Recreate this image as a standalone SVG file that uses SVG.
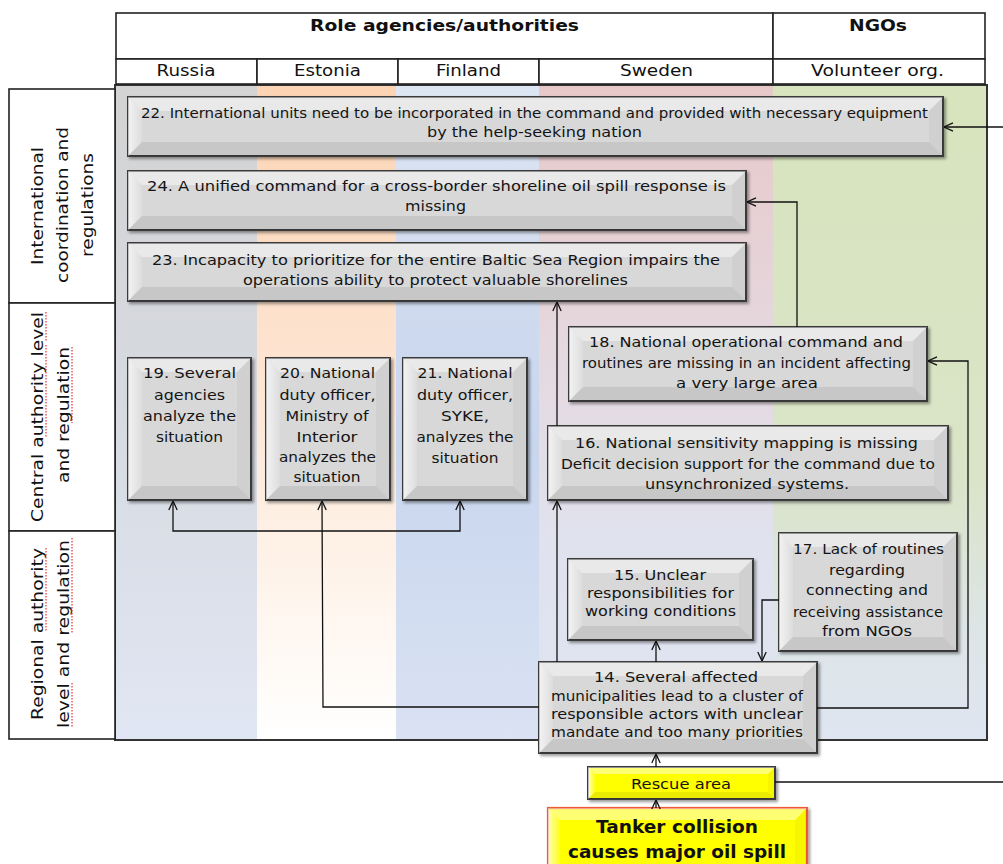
<svg xmlns="http://www.w3.org/2000/svg" width="1003" height="864" viewBox="0 0 1003 864">
  <defs>
    <style>
      .t { font-family: "DejaVu Sans", Verdana, sans-serif; font-size: 14.5px; fill: #141414; text-anchor: middle; }
      .hb { font-family: "DejaVu Sans", Verdana, sans-serif; font-size: 15px; font-weight: bold; fill: #111; text-anchor: middle; }
      .hn { font-family: "DejaVu Sans", Verdana, sans-serif; font-size: 15px; fill: #111; text-anchor: middle; }
      .rl { font-family: "DejaVu Sans", Verdana, sans-serif; font-size: 15px; fill: #111; text-anchor: middle; }
      .big { font-family: "DejaVu Sans", Verdana, sans-serif; font-size: 18px; font-weight: bold; fill: #111; text-anchor: middle; }
      .cell { fill: #fff; stroke: #222; stroke-width: 1.6; }
      .box { fill: #d8d8d8; stroke: #3a3a3a; stroke-width: 2; }
      .ybox { fill: #ffff00; stroke: #3a3a3a; stroke-width: 2; }
      .tbox { fill: #ffff00; stroke: #ee5a36; stroke-width: 2.2; }
      .bt { fill: #ffffff; fill-opacity: 0.45; }
      .bl { fill: url(#gLeft); }
      .br { fill: #000; fill-opacity: 0.035; }
      .bb { fill: #000; fill-opacity: 0.08; }
      .sh { filter: url(#shadow); }
      .wire { fill: none; stroke: #111; stroke-width: 1.3; }
      .spell { fill: none; stroke: #e83030; stroke-width: 1.2; stroke-dasharray: 1.5 1.5; }
    </style>
    <linearGradient id="gLeft" x1="0" y1="0" x2="1" y2="0">
      <stop offset="0" stop-color="#fff" stop-opacity="0.7"/>
      <stop offset="1" stop-color="#fff" stop-opacity="0.12"/>
    </linearGradient>
    <linearGradient id="laneRu" x1="0" y1="0" x2="0" y2="1">
      <stop offset="0" stop-color="#d3d3d3"/>
      <stop offset="0.45" stop-color="#d6d9df"/>
      <stop offset="1" stop-color="#e0e6f3"/>
    </linearGradient>
    <linearGradient id="laneEe" x1="0" y1="0" x2="0" y2="1">
      <stop offset="0" stop-color="#fcd4b4"/>
      <stop offset="0.4" stop-color="#fde3cf"/>
      <stop offset="0.7" stop-color="#fef1e6"/>
      <stop offset="1" stop-color="#ffffff"/>
    </linearGradient>
    <linearGradient id="laneFi" x1="0" y1="0" x2="0" y2="1">
      <stop offset="0" stop-color="#dde6f3"/>
      <stop offset="0.35" stop-color="#cfdaef"/>
      <stop offset="0.55" stop-color="#c8d6ee"/>
      <stop offset="1" stop-color="#dae2f3"/>
    </linearGradient>
    <linearGradient id="laneSe" x1="0" y1="0" x2="0" y2="1">
      <stop offset="0" stop-color="#e7c8c8"/>
      <stop offset="0.4" stop-color="#e5d8df"/>
      <stop offset="0.7" stop-color="#e0e2ee"/>
      <stop offset="1" stop-color="#dfe5f2"/>
    </linearGradient>
    <linearGradient id="laneNgo" x1="0" y1="0" x2="0" y2="1">
      <stop offset="0" stop-color="#d7e4bd"/>
      <stop offset="0.6" stop-color="#dae4c8"/>
      <stop offset="0.85" stop-color="#dde5e8"/>
      <stop offset="1" stop-color="#dfe5f1"/>
    </linearGradient>
    <filter id="shadow" x="-5%" y="-10%" width="115%" height="130%">
      <feDropShadow dx="2" dy="2" stdDeviation="1.5" flood-color="#000" flood-opacity="0.4"/>
    </filter>
    <marker id="ah" viewBox="0 0 10 10" refX="10" refY="5" markerWidth="10" markerHeight="10" markerUnits="userSpaceOnUse" orient="auto-start-reverse">
      <path d="M1,0.8 L10,5 L1,9.2" fill="none" stroke="#111" stroke-width="1.3"/>
    </marker>
  </defs>

  <rect width="1003" height="864" fill="#fff"/>

  <!-- swim lanes -->
  <g id="lanes">
    <rect x="116" y="86" width="141" height="653" fill="url(#laneRu)"/>
    <rect x="257" y="86" width="139" height="653" fill="url(#laneEe)"/>
    <rect x="396" y="86" width="143" height="653" fill="url(#laneFi)"/>
    <rect x="539" y="86" width="234" height="653" fill="url(#laneSe)"/>
    <rect x="773" y="86" width="213" height="653" fill="url(#laneNgo)"/>
    <rect x="115" y="85" width="872" height="655" fill="none" stroke="#333" stroke-width="2"/>
  </g>

  <!-- column header table -->
  <g id="header">
    <rect class="cell" x="116" y="13" width="657" height="46"/>
    <rect class="cell" x="773" y="13" width="212" height="46"/>
    <rect class="cell" x="116" y="59" width="141" height="25"/>
    <rect class="cell" x="257" y="59" width="141" height="25"/>
    <rect class="cell" x="398" y="59" width="141" height="25"/>
    <rect class="cell" x="539" y="59" width="234" height="25"/>
    <rect class="cell" x="773" y="59" width="212" height="25"/>
    <text class="hb" x="444.5" y="31" textLength="269" lengthAdjust="spacingAndGlyphs">Role agencies/authorities</text>
    <text class="hb" x="878" y="31" textLength="58" lengthAdjust="spacingAndGlyphs">NGOs</text>
    <text class="hn" x="186" y="76" textLength="59" lengthAdjust="spacingAndGlyphs">Russia</text>
    <text class="hn" x="327.5" y="76" textLength="67" lengthAdjust="spacingAndGlyphs">Estonia</text>
    <text class="hn" x="468.5" y="76" textLength="65" lengthAdjust="spacingAndGlyphs">Finland</text>
    <text class="hn" x="656.5" y="76" textLength="73" lengthAdjust="spacingAndGlyphs">Sweden</text>
    <text class="hn" x="877.5" y="76" textLength="133" lengthAdjust="spacingAndGlyphs">Volunteer org.</text>
  </g>

  <!-- row header column -->
  <g id="row-labels">
    <rect class="cell" x="9" y="89" width="106" height="214"/>
    <rect class="cell" x="9" y="303" width="106" height="228"/>
    <rect class="cell" x="9" y="531" width="106" height="208"/>
    <text class="rl" transform="translate(43,206) rotate(-90)" textLength="118" lengthAdjust="spacingAndGlyphs">International</text>
    <text class="rl" transform="translate(68,205) rotate(-90)" textLength="156" lengthAdjust="spacingAndGlyphs">coordination and</text>
    <text class="rl" transform="translate(93,205) rotate(-90)" textLength="104" lengthAdjust="spacingAndGlyphs">regulations</text>
    <text class="rl" transform="translate(43,417) rotate(-90)" textLength="210" lengthAdjust="spacingAndGlyphs">Central authority level</text>
    <text class="rl" transform="translate(69,415) rotate(-90)" textLength="136" lengthAdjust="spacingAndGlyphs">and regulation</text>
    <text class="rl" transform="translate(43,634) rotate(-90)" textLength="172" lengthAdjust="spacingAndGlyphs">Regional authority</text>
    <text class="rl" transform="translate(69,634) rotate(-90)" textLength="188" lengthAdjust="spacingAndGlyphs">level and regulation</text>
    <path class="spell" d="M46,312 V341 M46,345 V438 M72,347 V423 M46,548 V632 M72,538 V633 M72,683 V728"/>
  </g>

  <!-- problem boxes -->
  <g id="n22">
    <rect class="box sh" x="128" y="97" width="815" height="59"/>
    <polygon class="bt" points="128,97 943,97 929,111 142,111"/>
    <polygon class="bl" points="128,97 142,111 142,142 128,156"/>
    <polygon class="br" points="943,97 943,156 929,142 929,111"/>
    <polygon class="bb" points="128,156 142,142 929,142 943,156"/>
    <text class="t" x="534.5" y="118" textLength="787" lengthAdjust="spacingAndGlyphs">22. International units need to be incorporated in the command and provided with necessary equipment</text>
    <text class="t" x="534.5" y="137" textLength="215" lengthAdjust="spacingAndGlyphs">by the help-seeking nation</text>
  </g>
  <g id="n24">
    <rect class="box sh" x="128" y="171" width="618" height="59"/>
    <polygon class="bt" points="128,171 746,171 732,185 142,185"/>
    <polygon class="bl" points="128,171 142,185 142,216 128,230"/>
    <polygon class="br" points="746,171 746,230 732,216 732,185"/>
    <polygon class="bb" points="128,230 142,216 732,216 746,230"/>
    <text class="t" x="436.5" y="191" textLength="579" lengthAdjust="spacingAndGlyphs">24. A unified command for a cross-border shoreline oil spill response is</text>
    <text class="t" x="435.5" y="211" textLength="61" lengthAdjust="spacingAndGlyphs">missing</text>
  </g>
  <g id="n23">
    <rect class="box sh" x="128" y="243" width="618" height="58"/>
    <polygon class="bt" points="128,243 746,243 732,257 142,257"/>
    <polygon class="bl" points="128,243 142,257 142,287 128,301"/>
    <polygon class="br" points="746,243 746,301 732,287 732,257"/>
    <polygon class="bb" points="128,301 142,287 732,287 746,301"/>
    <text class="t" x="436" y="265" textLength="568" lengthAdjust="spacingAndGlyphs">23. Incapacity to prioritize for the entire Baltic Sea Region impairs the</text>
    <text class="t" x="435.5" y="285" textLength="385" lengthAdjust="spacingAndGlyphs">operations ability to protect valuable shorelines</text>
  </g>
  <g id="n19">
    <rect class="box sh" x="128" y="358" width="123" height="142"/>
    <polygon class="bt" points="128,358 251,358 237,372 142,372"/>
    <polygon class="bl" points="128,358 142,372 142,486 128,500"/>
    <polygon class="br" points="251,358 251,500 237,486 237,372"/>
    <polygon class="bb" points="128,500 142,486 237,486 251,500"/>
    <text class="t" x="189.5" y="378" textLength="93" lengthAdjust="spacingAndGlyphs">19. Several</text>
    <text class="t" x="189.5" y="400" textLength="71" lengthAdjust="spacingAndGlyphs">agencies</text>
    <text class="t" x="189.5" y="421" textLength="93" lengthAdjust="spacingAndGlyphs">analyze the</text>
    <text class="t" x="189.5" y="442" textLength="67" lengthAdjust="spacingAndGlyphs">situation</text>
  </g>
  <g id="n20">
    <rect class="box sh" x="266" y="358" width="124" height="142"/>
    <polygon class="bt" points="266,358 390,358 376,372 280,372"/>
    <polygon class="bl" points="266,358 280,372 280,486 266,500"/>
    <polygon class="br" points="390,358 390,500 376,486 376,372"/>
    <polygon class="bb" points="266,500 280,486 376,486 390,500"/>
    <text class="t" x="327.5" y="378" textLength="95" lengthAdjust="spacingAndGlyphs">20. National</text>
    <text class="t" x="327.5" y="400" textLength="96" lengthAdjust="spacingAndGlyphs">duty officer,</text>
    <text class="t" x="327" y="421" textLength="83" lengthAdjust="spacingAndGlyphs">Ministry of</text>
    <text class="t" x="327" y="442" textLength="61" lengthAdjust="spacingAndGlyphs">Interior</text>
    <text class="t" x="327.5" y="462" textLength="97" lengthAdjust="spacingAndGlyphs">analyzes the</text>
    <text class="t" x="327" y="482" textLength="67" lengthAdjust="spacingAndGlyphs">situation</text>
  </g>
  <g id="n21">
    <rect class="box sh" x="403" y="358" width="124" height="142"/>
    <polygon class="bt" points="403,358 527,358 513,372 417,372"/>
    <polygon class="bl" points="403,358 417,372 417,486 403,500"/>
    <polygon class="br" points="527,358 527,500 513,486 513,372"/>
    <polygon class="bb" points="403,500 417,486 513,486 527,500"/>
    <text class="t" x="465" y="378" textLength="95" lengthAdjust="spacingAndGlyphs">21. National</text>
    <text class="t" x="465" y="400" textLength="96" lengthAdjust="spacingAndGlyphs">duty officer,</text>
    <text class="t" x="465" y="421" textLength="48" lengthAdjust="spacingAndGlyphs">SYKE,</text>
    <text class="t" x="465" y="442" textLength="97" lengthAdjust="spacingAndGlyphs">analyzes the</text>
    <text class="t" x="465" y="463" textLength="67" lengthAdjust="spacingAndGlyphs">situation</text>
  </g>
  <g id="n18">
    <rect class="box sh" x="569" y="327" width="358" height="74"/>
    <polygon class="bt" points="569,327 927,327 913,341 583,341"/>
    <polygon class="bl" points="569,327 583,341 583,387 569,401"/>
    <polygon class="br" points="927,327 927,401 913,387 913,341"/>
    <polygon class="bb" points="569,401 583,387 913,387 927,401"/>
    <text class="t" x="746" y="347" textLength="314" lengthAdjust="spacingAndGlyphs">18. National operational command and</text>
    <text class="t" x="746.5" y="368" textLength="329" lengthAdjust="spacingAndGlyphs">routines are missing in an incident affecting</text>
    <text class="t" x="747" y="388" textLength="142" lengthAdjust="spacingAndGlyphs">a very large area</text>
  </g>
  <g id="n16">
    <rect class="box sh" x="548" y="426" width="400" height="74"/>
    <polygon class="bt" points="548,426 948,426 934,440 562,440"/>
    <polygon class="bl" points="548,426 562,440 562,486 548,500"/>
    <polygon class="br" points="948,426 948,500 934,486 934,440"/>
    <polygon class="bb" points="548,500 562,486 934,486 948,500"/>
    <text class="t" x="746.5" y="448" textLength="343" lengthAdjust="spacingAndGlyphs">16. National sensitivity mapping is missing</text>
    <text class="t" x="748" y="469" textLength="374" lengthAdjust="spacingAndGlyphs">Deficit decision support for the command due to</text>
    <text class="t" x="747" y="489" textLength="204" lengthAdjust="spacingAndGlyphs">unsynchronized systems.</text>
  </g>
  <g id="n15">
    <rect class="box sh" x="568" y="559" width="185" height="81"/>
    <polygon class="bt" points="568,559 753,559 739,573 582,573"/>
    <polygon class="bl" points="568,559 582,573 582,626 568,640"/>
    <polygon class="br" points="753,559 753,640 739,626 739,573"/>
    <polygon class="bb" points="568,640 582,626 739,626 753,640"/>
    <text class="t" x="660" y="580" textLength="92" lengthAdjust="spacingAndGlyphs">15. Unclear</text>
    <text class="t" x="660.5" y="598" textLength="147" lengthAdjust="spacingAndGlyphs">responsibilities for</text>
    <text class="t" x="660.5" y="616" textLength="151" lengthAdjust="spacingAndGlyphs">working conditions</text>
  </g>
  <g id="n17">
    <rect class="box sh" x="779" y="533" width="178" height="118"/>
    <polygon class="bt" points="779,533 957,533 943,547 793,547"/>
    <polygon class="bl" points="779,533 793,547 793,637 779,651"/>
    <polygon class="br" points="957,533 957,651 943,637 943,547"/>
    <polygon class="bb" points="779,651 793,637 943,637 957,651"/>
    <text class="t" x="868.5" y="554" textLength="151" lengthAdjust="spacingAndGlyphs">17. Lack of routines</text>
    <text class="t" x="867" y="575" textLength="76" lengthAdjust="spacingAndGlyphs">regarding</text>
    <text class="t" x="867" y="595" textLength="122" lengthAdjust="spacingAndGlyphs">connecting and</text>
    <text class="t" x="868" y="617" textLength="150" lengthAdjust="spacingAndGlyphs">receiving assistance</text>
    <text class="t" x="867" y="636" textLength="90" lengthAdjust="spacingAndGlyphs">from NGOs</text>
  </g>
  <g id="n14">
    <rect class="box sh" x="539" y="662" width="278" height="91"/>
    <polygon class="bt" points="539,662 817,662 803,676 553,676"/>
    <polygon class="bl" points="539,662 553,676 553,739 539,753"/>
    <polygon class="br" points="817,662 817,753 803,739 803,676"/>
    <polygon class="bb" points="539,753 553,739 803,739 817,753"/>
    <text class="t" x="676" y="682" textLength="164" lengthAdjust="spacingAndGlyphs">14. Several affected</text>
    <text class="t" x="677" y="701" textLength="252" lengthAdjust="spacingAndGlyphs">municipalities lead to a cluster of</text>
    <text class="t" x="677" y="719" textLength="252" lengthAdjust="spacingAndGlyphs">responsible actors with unclear</text>
    <text class="t" x="677" y="737" textLength="252" lengthAdjust="spacingAndGlyphs">mandate and too many priorities</text>
  </g>
  <g id="rescue-area">
    <rect class="ybox sh" x="588" y="767" width="187" height="32"/>
    <polygon class="bt" points="588,767 775,767 768,774 595,774"/>
    <polygon class="bl" points="588,767 595,774 595,792 588,799"/>
    <polygon class="br" points="775,767 775,799 768,792 768,774"/>
    <polygon class="bb" points="588,799 595,792 768,792 775,799"/>
    <text class="t" x="681" y="789" style="font-size:13.5px" textLength="100" lengthAdjust="spacingAndGlyphs">Rescue area</text>
  </g>
  <g id="tanker-collision">
    <rect class="tbox sh" x="548" y="808" width="259" height="64"/>
    <polygon class="bt" points="548,808 807,808 795,820 560,820"/>
    <polygon class="bl" points="548,808 560,820 560,872 548,872"/>
    <polygon class="br" points="807,808 807,872 795,872 795,820"/>
    <text class="big" x="677" y="833" textLength="162" lengthAdjust="spacingAndGlyphs">Tanker collision</text>
    <text class="big" x="677" y="858" textLength="218" lengthAdjust="spacingAndGlyphs">causes major oil spill</text>
  </g>

  <!-- connectors -->
  <g id="connectors">
    <path class="wire" d="M1003,127 H944" marker-end="url(#ah)"/>
    <path class="wire" d="M797,327 V202 H747" marker-end="url(#ah)"/>
    <path class="wire" d="M557,426 V302" marker-end="url(#ah)"/>
    <path class="wire" d="M557,662 V501" marker-end="url(#ah)"/>
    <path class="wire" d="M539,707 H323 L322,501" marker-end="url(#ah)"/>
    <path class="wire" d="M173,501 V531 H460 V501" marker-start="url(#ah)" marker-end="url(#ah)"/>
    <path class="wire" d="M656,662 V641" marker-end="url(#ah)"/>
    <path class="wire" d="M779,600 H762 V661" marker-end="url(#ah)"/>
    <path class="wire" d="M817,708 H968 V361 H928" marker-end="url(#ah)"/>
    <path class="wire" d="M656,767 V754" marker-end="url(#ah)"/>
    <path class="wire" d="M656,808 V800" marker-end="url(#ah)"/>
    <path class="wire" d="M775,782 H1003"/>
  </g>
</svg>
